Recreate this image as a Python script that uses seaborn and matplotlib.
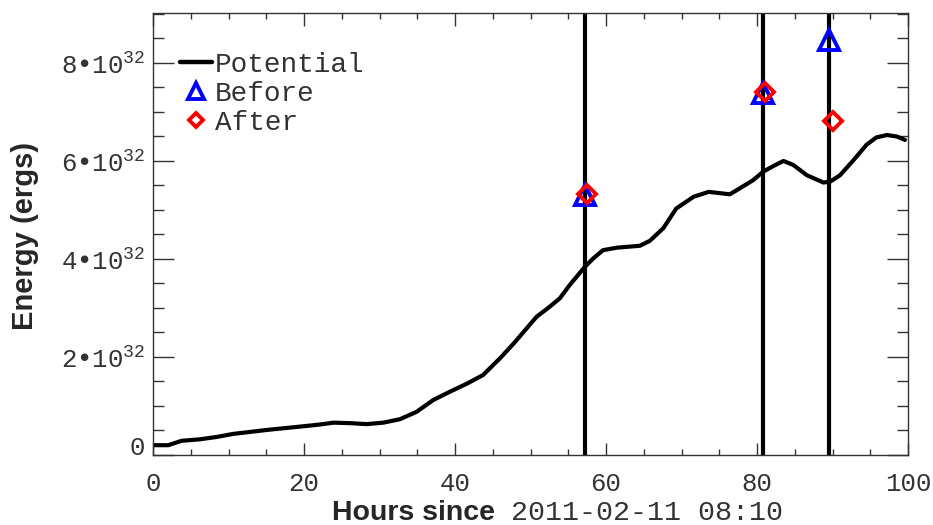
import numpy as np
import pandas as pd
import matplotlib
matplotlib.use("Agg")
import matplotlib.pyplot as plt
import seaborn as sns
from matplotlib.lines import Line2D
from matplotlib.ticker import MultipleLocator, FuncFormatter

# Potential-field energy time series (hours since start, energy in 1e32 erg)
hours = [0.0, 2.0, 3.8, 6.2, 8.5, 10.6, 15.0, 19.5, 22.0, 23.9, 26.1, 28.3,
         30.5, 32.7, 34.9, 37.1, 39.3, 41.5, 43.7, 46.0, 47.8, 49.3, 50.8,
         52.5, 53.9, 55.2, 57.2, 58.3, 59.6, 61.4, 64.5, 65.8, 67.6, 69.3,
         71.6, 73.6, 76.4, 77.7, 79.5, 80.8, 82.2, 83.5, 84.8, 86.6, 88.8,
         89.7, 91.0, 92.8, 94.5, 95.8, 97.2, 98.5, 99.6]
potential = [0.20, 0.20, 0.29, 0.32, 0.37, 0.43, 0.51, 0.58, 0.62, 0.66, 0.65,
             0.63, 0.66, 0.73, 0.88, 1.12, 1.29, 1.45, 1.63, 1.98, 2.28, 2.55,
             2.82, 3.02, 3.20, 3.47, 3.84, 4.01, 4.18, 4.23, 4.27, 4.37, 4.63,
             5.03, 5.27, 5.37, 5.32, 5.44, 5.61, 5.78, 5.90, 6.00, 5.92, 5.71,
             5.56, 5.58, 5.71, 6.02, 6.33, 6.48, 6.53, 6.50, 6.43]

# Flare times and energies before/after each event (1e32 erg)
event_hours = [57.2, 80.8, 89.6]
before_hours = [57.2, 80.8, 89.6]
before_energy = [5.31, 7.39, 8.47]
after_hours = [57.5, 81.1, 90.0]
after_energy = [5.33, 7.40, 6.82]

SCALE = 1e32
df_pot = pd.DataFrame({"hours": hours, "energy": np.array(potential) * SCALE})
df_before = pd.DataFrame({"hours": before_hours, "energy": np.array(before_energy) * SCALE})
df_after = pd.DataFrame({"hours": after_hours, "energy": np.array(after_energy) * SCALE})

sns.set_style("ticks")
plt.rcParams["font.family"] = ["Liberation Mono", "DejaVu Sans Mono"]
plt.rcParams["mathtext.default"] = "regular"

TEXT_GRAY = "#333333"
AXIS_GRAY = "#333333"
TICK_FS = 18.5
YPAD = 6

fig = plt.figure(figsize=(9.33, 5.25), dpi=100)
ax = fig.add_axes([153 / 933, 70 / 525, 755 / 933, 442 / 525])

sns.lineplot(data=df_pot, x="hours", y="energy", ax=ax, color="black",
             linewidth=3.0, sort=False)
for t in event_hours:
    ax.axvline(t, color="black", linewidth=3.0, zorder=2)

ax.plot(df_before["hours"], df_before["energy"], linestyle="none", marker="^",
        markersize=14, markerfacecolor="none", markeredgecolor="blue",
        markeredgewidth=2.8, zorder=3)
ax.plot(df_after["hours"], df_after["energy"], linestyle="none", marker="D",
        markersize=9, markerfacecolor="none", markeredgecolor="red",
        markeredgewidth=2.8, zorder=4)

ax.set_xlim(0, 100)
ax.set_ylim(0, 9.02e32)

ax.xaxis.set_major_locator(MultipleLocator(20))
ax.xaxis.set_minor_locator(MultipleLocator(5))
ax.yaxis.set_major_locator(MultipleLocator(2e32))
ax.yaxis.set_minor_locator(MultipleLocator(0.5e32))


def energy_fmt(v, pos):
    # the zero label is drawn separately, nudged up from the corner
    if abs(v) < 1e20:
        return ""
    return "%d\u2022" % round(v / SCALE) + "10$^{32}$"


ax.yaxis.set_major_formatter(FuncFormatter(energy_fmt))
ax.annotate("0", xy=(0, 0), xycoords=("axes fraction", "data"),
            xytext=(-YPAD, 5), textcoords="offset points", ha="right",
            va="center", fontsize=TICK_FS, color=TEXT_GRAY)

for sp in ax.spines.values():
    sp.set_visible(True)
    sp.set_color(AXIS_GRAY)
    sp.set_linewidth(1.0)

ax.tick_params(axis="x", which="major", direction="in", length=9, width=1,
               top=True, pad=12, labelsize=TICK_FS, color=AXIS_GRAY,
               labelcolor=TEXT_GRAY)
ax.tick_params(axis="x", which="minor", direction="in", length=4.5, width=1,
               top=True, color=AXIS_GRAY)
ax.tick_params(axis="y", which="major", direction="in", length=15, width=1,
               right=True, pad=YPAD, labelsize=TICK_FS, color=AXIS_GRAY,
               labelcolor=TEXT_GRAY)
ax.tick_params(axis="y", which="minor", direction="in", length=8, width=1,
               right=True, color=AXIS_GRAY)

ax.set_xlabel("")
ax.set_ylabel("")

# Axis titles: bold sans part plus monospaced timestamp
fig.text(495 / 933, 1 - 520 / 525, "Hours since", ha="right", va="baseline",
         fontsize=20.5, fontweight="bold", family=["Liberation Sans", "DejaVu Sans"])
fig.text(511 / 933, 1 - 520 / 525, "2011-02-11 08:10", ha="left", va="baseline",
         fontsize=20.4, color=TEXT_GRAY)
fig.text(25 / 933, 1 - 236 / 525, "Energy (ergs)", ha="center", va="center",
         rotation=90, fontsize=21, fontweight="bold",
         family=["Liberation Sans", "DejaVu Sans"])

handles = [
    Line2D([], [], color="black", linewidth=3.2),
    Line2D([], [], linestyle="none", marker="^", markersize=11,
           markerfacecolor="none", markeredgecolor="blue", markeredgewidth=2.8),
    Line2D([], [], linestyle="none", marker="D", markersize=7.5,
           markerfacecolor="none", markeredgecolor="red", markeredgewidth=2.8),
]
leg = ax.legend(handles, ["Potential", "Before", "After"], loc="upper left",
                bbox_to_anchor=(180 / 933, 1 - 52 / 525),
                bbox_transform=fig.transFigure, frameon=False, fontsize=20,
                handlelength=1.15, handletextpad=0.1, labelspacing=0.1,
                borderpad=0, borderaxespad=0)
for txt in leg.get_texts():
    txt.set_color(TEXT_GRAY)

fig.savefig("out.png", dpi=100)
